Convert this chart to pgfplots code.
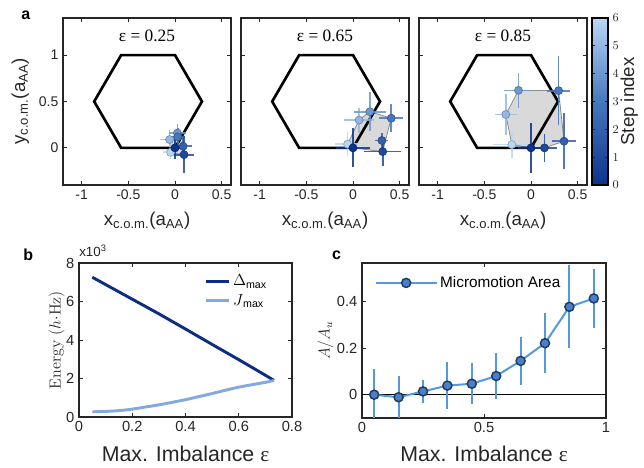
\documentclass[border=0pt]{standalone}
\usepackage{pgfplots}
\pgfplotsset{compat=1.18}
\usepackage{fontspec}
\setsansfont{Liberation Sans}
\renewcommand{\familydefault}{\sfdefault}
\newfontfamily\tnr{Liberation Serif}

\definecolor{axisgray}{RGB}{38,38,38}
\definecolor{s0}{RGB}{12,50,140}
\definecolor{s1}{RGB}{31,73,157}
\definecolor{s2}{RGB}{51,97,173}
\definecolor{s3}{RGB}{70,120,190}
\definecolor{s4}{RGB}{108,152,208}
\definecolor{s5}{RGB}{147,183,227}
\definecolor{s6}{RGB}{185,215,245}
\definecolor{dmax}{RGB}{12,45,130}
\definecolor{jmax}{RGB}{130,170,222}
\definecolor{cline}{RGB}{84,152,222}
\definecolor{cfill}{RGB}{75,128,198}
\definecolor{cedge}{RGB}{32,58,100}
\definecolor{hullfill}{RGB}{217,217,217}
\definecolor{hulledge}{RGB}{140,140,140}

\pgfplotsset{
  colormap={steps}{rgb255=(12,50,140) rgb255=(70,120,190) rgb255=(185,215,245)},
  every axis title shift=0pt,
  mystyle/.style={
    scale only axis,
    axis line style={axisgray, line width=0.8pt},
    tick align=inside,
    tick style={axisgray, line width=0.6pt},
    major tick length=3pt,
    /pgf/number format/assume math mode=true,
    ticklabel style={font=\fontsize{10.5}{12}\selectfont, text=axisgray},
    clip=true,
  },
  topstyle/.style={
    mystyle,
    width=126pt, height=125.25pt,
    xmin=-1.2, xmax=0.6, ymin=-0.4, ymax=1.4,
    xtick={-1,-0.5,0,0.5}, ytick={0,0.5,1},
    xlabel={x\textsubscript{c.o.m.}(a\textsubscript{AA})},
    xlabel style={at={(axis description cs:0.5,-0.135)}, anchor=north, font=\fontsize{14}{16}\selectfont, text=axisgray},
    title style={at={(axis description cs:0.5,0.892)}, anchor=center, font=\tnr\fontsize{13}{15}\selectfont},
  },
}

\newcommand{\pt}[5]{%
  \addplot[s#1, mark=*, mark size=3pt,
    mark options={fill=s#1, draw=s#1!75!black, line width=0.5pt},
    error bars/.cd, x dir=both, x explicit, y dir=both, y explicit, error mark=none,
    error bar style={line width=1.3pt, s#1, opacity=0.85}]
    coordinates {(#2,#3) +- (#4,#5)};}

\newcommand{\hexagon}{%
  \addplot[black, line width=2pt, line join=miter, mark=none]
    coordinates {(-0.577,0) (0,0) (0.289,0.5) (0,1) (-0.577,1) (-0.866,0.5)} --cycle;}

\begin{document}
\begin{tikzpicture}
\useasboundingbox (0,0) rectangle (483pt,-351pt);

\node[font=\bfseries\fontsize{12}{14}\selectfont] at (19.3pt,-11.25pt) {a};
\node[font=\bfseries\fontsize{12}{14}\selectfont] at (21.2pt,-191.25pt) {b};
\node[font=\bfseries\fontsize{12}{14}\selectfont] at (252.5pt,-191.25pt) {c};
\node[anchor=base west, inner sep=0pt, font=\fontsize{10}{12}\selectfont, text=axisgray] at (59.25pt,-192.5pt) {x10\textsuperscript{3}};

% ---------- panel a1 ----------
\begin{axis}[topstyle, at={(47.25pt,-13.5pt)}, anchor=north west,
  title={ε = 0.25},
  ylabel={y\textsubscript{c.o.m.}(a\textsubscript{AA})},
  ylabel style={at={(axis description cs:-0.175,0.5)}, anchor=south, font=\fontsize{14}{16}\selectfont, text=axisgray},
]
\addplot[fill=hullfill, draw=hulledge, line width=0.6pt] coordinates {(-0.047,-0.048) (0.097,-0.073) (0.087,0.017) (0.026,0.16) (-0.058,0.09)} --cycle;
\hexagon
\pt{6}{-0.047}{-0.048}{0.08}{0.07}
\pt{5}{-0.058}{0.09}{0.1}{0.1}
\pt{4}{0.026}{0.16}{0.09}{0.1}
\pt{3}{0.03}{0.12}{0.08}{0.09}
\pt{2}{0.087}{0.017}{0.1}{0.09}
\pt{1}{0.097}{-0.073}{0.11}{0.2}
\pt{0}{0}{0}{0.06}{0.12}
\end{axis}

% ---------- panel a2 ----------
\begin{axis}[topstyle, at={(180.75pt,-13.5pt)}, anchor=north west,
  title={ε = 0.65}, yticklabels={},
]
\addplot[fill=hullfill, draw=hulledge, line width=0.6pt] coordinates {(-0.058,0.04) (0,0) (0.318,-0.04) (0.41,0.32) (0.18,0.39) (0.065,0.30)} --cycle;
\hexagon
\pt{6}{-0.058}{0.04}{0.13}{0.13}
\pt{5}{0.065}{0.30}{0.16}{0.135}
\pt{4}{0.18}{0.39}{0.17}{0.21}
\pt{3}{0.41}{0.32}{0.13}{0.15}
\pt{2}{0.31}{0.08}{0.07}{0.08}
\pt{1}{0.318}{-0.04}{0.2}{0.16}
\pt{0}{0}{0}{0.18}{0.21}
\end{axis}

% ---------- panel a3 ----------
\begin{axis}[topstyle, at={(314.25pt,-13.5pt)}, anchor=north west,
  title={ε = 0.85}, yticklabels={},
  colorbar, colormap name=steps, point meta min=0, point meta max=6,
  colorbar style={
    at={(parent axis.north east)}, anchor=north west, xshift=-4.8pt,
    width=12pt, ytick={0,1,2,3,4,5,6}, yticklabel pos=right,
    axis line style={black, line width=1pt},
    tick align=inside, major tick length=2pt,
    tick style={axisgray, line width=0.5pt},
    yticklabel style={font=\fontsize{9.5}{10}\selectfont, text=axisgray},
    ylabel={Step index},
    ylabel style={at={(axis description cs:1.5,0.5)}, anchor=north, font=\fontsize{14}{16}\selectfont, text=axisgray},
  },
]
\addplot[fill=hullfill, draw=hulledge, line width=0.6pt] coordinates {(-0.206,0.036) (0,0) (0.144,0) (0.354,0.072) (0.296,0.617) (-0.134,0.62) (-0.27,0.36)} --cycle;
\hexagon
\pt{6}{-0.206}{0.036}{0.2}{0.15}
\pt{5}{-0.27}{0.36}{0.12}{0.22}
\pt{4}{-0.134}{0.62}{0.15}{0.19}
\pt{3}{0.296}{0.617}{0.125}{0.37}
\pt{2}{0.354}{0.072}{0.13}{0.3}
\pt{1}{0.144}{0}{0.135}{0.15}
\pt{0}{0}{0}{0.135}{0.27}
\end{axis}

% ---------- panel b ----------
\begin{axis}[mystyle, at={(59.25pt,-197.25pt)}, anchor=north west,
  width=159.75pt, height=115.5pt,
  xmin=0, xmax=0.8, ymin=0, ymax=8000,
  xtick={0,0.2,0.4,0.6,0.8},
  ytick={0,2000,4000,6000,8000}, yticklabels={0,2,4,6,8},
  scaled y ticks=false,
  ticklabel style={font=\fontsize{11}{13}\selectfont, text=axisgray},
  xlabel={Max. Imbalance {\tnr ε}},
  xlabel style={at={(axis description cs:0.5,-0.156)}, anchor=north, font=\fontsize{16}{18}\selectfont, text=axisgray},
  ylabel={\rmfamily Energy $(h{\cdot}\mathrm{Hz})$},
  ylabel style={at={(axis description cs:-0.045,0.5)}, anchor=south, font=\fontsize{12}{14}\selectfont, text=axisgray},
  legend style={at={(axis description cs:0.57,0.96)}, anchor=north west, draw=none, fill=none,
    font=\fontsize{12}{14}\selectfont, row sep=1pt},
  legend cell align=left,
]
\addplot[dmax, line width=2.2pt] coordinates {
 (0.05,7260) (0.1,6880) (0.2,6120) (0.3,5360) (0.4,4570) (0.5,3770) (0.6,2980) (0.7,2170) (0.732,1900)};
\addlegendentry{$\Delta$\textsubscript{max}}
\addplot[jmax, line width=2.2pt, smooth] coordinates {
 (0.05,270) (0.1,290) (0.15,330) (0.2,410) (0.25,520) (0.3,630) (0.4,900) (0.5,1220) (0.6,1550) (0.7,1800) (0.732,1900)};
\addlegendentry{$J$\textsubscript{max}}
\end{axis}

% ---------- panel c ----------
\begin{axis}[mystyle, at={(271.5pt,-197.25pt)}, anchor=north west,
  width=183pt, height=116.25pt,
  xmin=0, xmax=1, ymin=-0.1, ymax=0.565,
  xtick={0,0.5,1}, ytick={0,0.2,0.4},
  ticklabel style={font=\fontsize{11}{13}\selectfont, text=axisgray},
  xlabel={Max. Imbalance {\tnr ε}},
  xlabel style={at={(axis description cs:0.5,-0.148)}, anchor=north, font=\fontsize{16}{18}\selectfont, text=axisgray},
  ylabel={$A/A_u$},
  ylabel style={at={(axis description cs:-0.097,0.5)}, anchor=south, font=\fontsize{12}{14}\selectfont, text=axisgray},
  legend style={at={(axis description cs:0.035,0.95)}, anchor=north west, draw=none, fill=none,
    font=\fontsize{11.5}{13}\selectfont},
  legend cell align=left,
  legend image code/.code={%
    \draw[cline, line width=1.5pt] (0cm,0cm) -- (1.6cm,0cm);
    \draw[fill=cfill, draw=cedge, line width=1.1pt] (0.8cm,0cm) circle (3.4pt);},
]
\addplot[black, line width=1pt, forget plot] coordinates {(0,0) (1,0)};
\addplot[cline, line width=1.5pt, mark=*, mark size=3.4pt,
  mark options={fill=cfill, draw=cedge, line width=1.1pt},
  error bars/.cd, y dir=both, y explicit, error mark=none,
  error bar style={line width=1.5pt, cline}]
  coordinates {
  (0.05,0) +- (0,0.11)
  (0.15,-0.011) +- (0,0.092)
  (0.25,0.014) +- (0,0.048)
  (0.35,0.039) +- (0,0.10)
  (0.45,0.047) +- (0,0.087)
  (0.55,0.080) +- (0,0.097)
  (0.65,0.145) +- (0,0.103)
  (0.75,0.221) +- (0,0.128)
  (0.85,0.377) +- (0,0.178)
  (0.95,0.413) +- (0,0.128)
  };
\addlegendentry{Micromotion Area}
\end{axis}

\end{tikzpicture}
\end{document}
